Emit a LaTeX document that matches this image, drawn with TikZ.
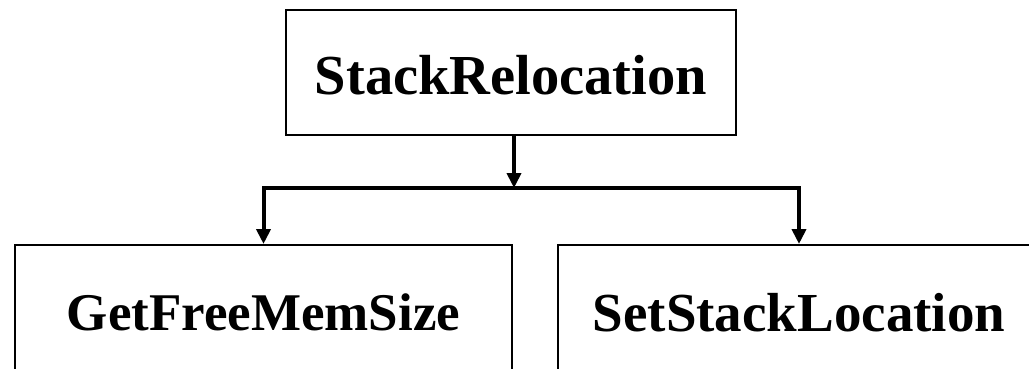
\documentclass[tikz,border=0pt]{standalone}
\usepackage{fontspec}
\setmainfont{Liberation Serif}
\usetikzlibrary{arrows.meta,calc}
\tikzset{
  box/.style={draw=black, line width=2pt, rectangle, inner sep=0pt,
              font=\fontsize{55}{60}\selectfont\bfseries},
  link/.style={line width=4pt, line join=miter},
  tip/.style={-{Triangle[length=15pt,width=14pt]}}
}
\begin{document}
\begin{tikzpicture}[x=1pt,y=-1pt]
  \clip (0,0) rectangle (1029,368);
  \fill[white] (0,0) rectangle (1029,368);
  \node[box, minimum width=450pt, minimum height=125pt, font=\fontsize{56.5}{60}\selectfont\bfseries, text height=44pt] (top) at (511,72.5) {StackRelocation};
  \node[box, minimum width=497pt, minimum height=140pt, font=\fontsize{53}{60}\selectfont\bfseries, text depth=6pt] (get) at (263.5,315) {GetFreeMemSize};
  \node[box, minimum width=482pt, minimum height=140pt, text depth=6pt] (set) at (799,315) {SetStackLocation};
  \coordinate (bus) at ($(top.south)+(3,52)$);
  \draw[link, tip] (top.south -| bus) -- (bus);
  \draw[link, tip] (bus) -| (get.north);
  \draw[link, tip] (bus) -| (set.north);
\end{tikzpicture}
\end{document}
